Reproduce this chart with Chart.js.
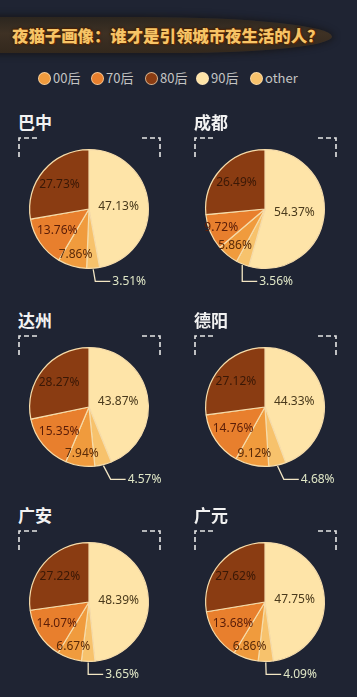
<!DOCTYPE html>
<html lang="zh">
<head>
  <meta charset="UTF-8">
  <meta name="viewport" content="width=device-width, initial-scale=1">
  <title>夜猫子画像</title>
  <script src="https://cdn.jsdelivr.net/npm/chart.js"></script>
  <style>
    * { box-sizing: border-box; }
    html, body { margin: 0; padding: 0; }
    body { width: 357px; height: 697px; background: #1f2433; position: relative; overflow: hidden;
      font-family: "Noto Sans CJK SC", "Noto Sans", sans-serif; }
    .banner { position: absolute; left: -10px; top: 17px; width: 342px; height: 36px;
      background: linear-gradient(180deg, #2c261f 0%, #3e3124 45%, #33281d 100%);
      border-radius: 0 60% 50% 0 / 0 60% 50% 0; box-shadow: 0 0 6px 2px rgba(20,16,14,0.6); }
    .title { position: absolute; left: 12px; top: 23px; margin: 0; font-size: 16.4px; font-weight: 900;
      color: #f7c466; white-space: nowrap;
      text-shadow: 1px 1px 0 #5a2a05, -1px 0 0 #4a2205, 0 -1px 0 #4a2205, 0 0 3px #2a1200; }
    .legend { position: absolute; top: 69px; left: 0; width: 357px; height: 18px; }
    .legend span { position: absolute; top: 0; font-size: 13px; color: #c4c4c4; line-height: 18px; padding-left: 15px; }
    .legend span i { position: absolute; left: 0; top: 3px; width: 13px; height: 13px; border-radius: 50%;
      border: 1px solid rgba(255,230,190,0.7); }
    .panel { position: absolute; width: 178px; height: 195px; }
    .panel h3 { position: absolute; left: 18px; top: 9px; margin: 0; font-size: 17px; font-weight: 700; color: #f2f2f2; }
    .panel svg { position: absolute; left: 0; top: 36px; }
    .panel canvas { position: absolute; left: 0; top: 29px; }
  </style>
</head>
<body>
  <div class="banner"></div>
  <h1 class="title">夜猫子画像：谁才是引领城市夜生活的人？</h1>
  <div class="legend" id="legend"></div>
  <div id="panels"></div>

  <script>
    // pie order, clockwise from 12 o'clock
    const groups = ['90后', 'other', '00后', '70后', '80后'];
    const legendOrder = ['00后', '70后', '80后', '90后', 'other'];
    const cities = ['巴中', '成都', '达州', '德阳', '广安', '广元'];
    const share90 = [47.13, 54.37, 43.87, 44.33, 48.39, 47.75];
    const shareOther = [3.51, 3.56, 4.57, 4.68, 3.65, 4.09];
    const share00 = [7.86, 5.86, 7.94, 9.12, 6.67, 6.86];
    const share70 = [13.76, 9.72, 15.35, 14.76, 14.07, 13.68];
    const share80 = [27.73, 26.49, 28.27, 27.12, 27.22, 27.62];

    const colors = { '90后': '#fee4a8', 'other': '#f7c26c', '00后': '#f09b3d', '70后': '#e87f2d', '80后': '#8a3c12' };
    const labelColors = { '90后': '#4a3a1c', 'other': '#4a3a1c', '00后': '#5a2a08', '70后': '#5a1d08', '80后': '#3a1806' };

    // legend
    const legendX = [38, 91, 145, 196, 250];
    const legend = document.getElementById('legend');
    legendOrder.forEach((g, i) => {
      legend.innerHTML += `<span style="left:${legendX[i]}px"><i style="background:${colors[g]}"></i>${g}</span>`;
    });

    const panelLeft = [0, 176];
    const panelTop = [100, 298, 493];
    const panels = document.getElementById('panels');

    // dashed corner brackets
    const bracketSvg = `<svg width="178" height="24"><g fill="none" stroke="#e6e6e6" stroke-width="1.6" stroke-dasharray="5,3">
      <path d="M19 21 V2 H40"/><path d="M160 21 V2 H139"/></g></svg>`;

    const pieLabels = {
      id: 'pieLabels',
      afterDatasetsDraw(chart) {
        const ctx = chart.ctx;
        const meta = chart.getDatasetMeta(0);
        const vals = chart.data.datasets[0].data;
        ctx.save();
        ctx.font = '12px "Noto Sans", sans-serif';
        ctx.textBaseline = 'middle';
        meta.data.forEach((arc, i) => {
          const p = arc.getProps(['x', 'y', 'startAngle', 'endAngle', 'outerRadius'], true);
          const mid = (p.startAngle + p.endAngle) / 2;
          const v = vals[i];
          const txt = v.toFixed(2) + '%';
          const g = groups[i];
          if (g === 'other') {
            const x1 = p.x + Math.cos(mid) * (p.outerRadius + 1);
            const y1 = p.y + Math.sin(mid) * (p.outerRadius + 1);
            const y2 = p.y + p.outerRadius + 13;
            const x2 = x1 + Math.max(0, Math.cos(mid)) * 30;
            ctx.strokeStyle = '#f3e6c4';
            ctx.lineWidth = 1.3;
            ctx.beginPath();
            ctx.moveTo(x1, y1);
            ctx.lineTo(x2, y2);
            ctx.lineTo(x2 + 15, y2);
            ctx.stroke();
            ctx.fillStyle = '#dfe6c6';
            ctx.textAlign = 'left';
            ctx.fillText(txt, x2 + 17, y2);
          } else {
            const f = v > 40 ? 0.5 : (v >= 10 ? 0.65 : 0.8);
            ctx.fillStyle = labelColors[g];
            ctx.textAlign = 'center';
            ctx.fillText(txt, p.x + Math.cos(mid) * p.outerRadius * f, p.y + Math.sin(mid) * p.outerRadius * f);
          }
        });
        ctx.restore();
      }
    };

    cities.forEach((city, k) => {
      const div = document.createElement('div');
      div.className = 'panel';
      div.style.left = panelLeft[k % 2] + 'px';
      div.style.top = panelTop[Math.floor(k / 2)] + 'px';
      div.innerHTML = `<h3>${city}</h3>${bracketSvg}<canvas width="178" height="160"></canvas>`;
      panels.appendChild(div);
      const data = [share90[k], shareOther[k], share00[k], share70[k], share80[k]];
      new Chart(div.querySelector('canvas'), {
        type: 'pie',
        data: {
          labels: groups,
          datasets: [{
            data,
            backgroundColor: groups.map(g => colors[g]),
            borderColor: '#f6dcaa',
            borderWidth: 1.2
          }]
        },
        options: {
          responsive: false,
          animation: false,
          layout: { padding: { left: 29, right: 29, top: 20, bottom: 20 } },
          plugins: { legend: { display: false }, tooltip: { enabled: false } }
        },
        plugins: [pieLabels]
      });
    });
  </script>
</body>
</html>
